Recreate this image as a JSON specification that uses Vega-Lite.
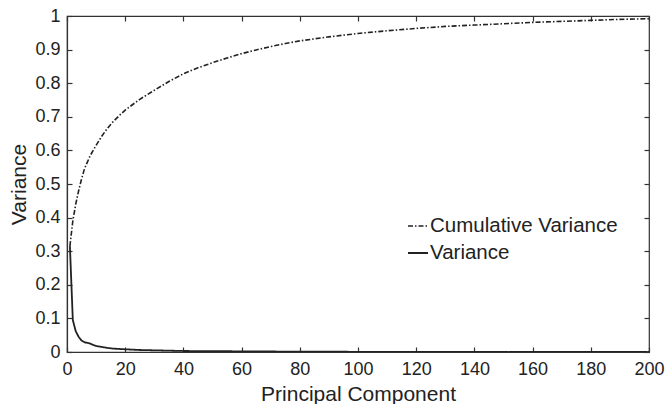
{
  "$schema": "https://vega.github.io/schema/vega-lite/v6.json",
  "width": 582,
  "height": 336,
  "autosize": "none",
  "padding": {"left": 67, "top": 16, "right": 17, "bottom": 52},
  "background": "white",
  "config": {
    "view": {"stroke": "#333", "strokeWidth": 1.2},
    "font": "Liberation Sans",
    "axis": {
      "grid": false,
      "labelFont": "Liberation Sans",
      "labelFontSize": 18,
      "labelColor": "#222",
      "titleFont": "Liberation Sans",
      "titleFontSize": 21,
      "titleFontWeight": "normal",
      "titleColor": "#222",
      "tickSize": -5,
      "tickColor": "#333",
      "tickWidth": 1.2,
      "domainColor": "#333",
      "domainWidth": 1.2
    },
    "legend": {
      "labelFont": "Liberation Sans",
      "labelFontSize": 20.5,
      "labelColor": "#222",
      "labelLimit": 400
    }
  },
  "datasets": {
    "pca": [
      {"pc": 1, "value": 0.315, "series": "Cumulative Variance"},
      {"pc": 2, "value": 0.39, "series": "Cumulative Variance"},
      {"pc": 3, "value": 0.44, "series": "Cumulative Variance"},
      {"pc": 4, "value": 0.48, "series": "Cumulative Variance"},
      {"pc": 5, "value": 0.515, "series": "Cumulative Variance"},
      {"pc": 6, "value": 0.545, "series": "Cumulative Variance"},
      {"pc": 7, "value": 0.565, "series": "Cumulative Variance"},
      {"pc": 8, "value": 0.585, "series": "Cumulative Variance"},
      {"pc": 9, "value": 0.6, "series": "Cumulative Variance"},
      {"pc": 10, "value": 0.615, "series": "Cumulative Variance"},
      {"pc": 12, "value": 0.643, "series": "Cumulative Variance"},
      {"pc": 14, "value": 0.667, "series": "Cumulative Variance"},
      {"pc": 16, "value": 0.687, "series": "Cumulative Variance"},
      {"pc": 18, "value": 0.704, "series": "Cumulative Variance"},
      {"pc": 20, "value": 0.72, "series": "Cumulative Variance"},
      {"pc": 25, "value": 0.752, "series": "Cumulative Variance"},
      {"pc": 30, "value": 0.779, "series": "Cumulative Variance"},
      {"pc": 35, "value": 0.805, "series": "Cumulative Variance"},
      {"pc": 40, "value": 0.828, "series": "Cumulative Variance"},
      {"pc": 45, "value": 0.846, "series": "Cumulative Variance"},
      {"pc": 50, "value": 0.861, "series": "Cumulative Variance"},
      {"pc": 55, "value": 0.875, "series": "Cumulative Variance"},
      {"pc": 60, "value": 0.888, "series": "Cumulative Variance"},
      {"pc": 65, "value": 0.899, "series": "Cumulative Variance"},
      {"pc": 70, "value": 0.909, "series": "Cumulative Variance"},
      {"pc": 75, "value": 0.918, "series": "Cumulative Variance"},
      {"pc": 80, "value": 0.926, "series": "Cumulative Variance"},
      {"pc": 85, "value": 0.932, "series": "Cumulative Variance"},
      {"pc": 90, "value": 0.938, "series": "Cumulative Variance"},
      {"pc": 95, "value": 0.943, "series": "Cumulative Variance"},
      {"pc": 100, "value": 0.948, "series": "Cumulative Variance"},
      {"pc": 110, "value": 0.956, "series": "Cumulative Variance"},
      {"pc": 120, "value": 0.963, "series": "Cumulative Variance"},
      {"pc": 130, "value": 0.969, "series": "Cumulative Variance"},
      {"pc": 140, "value": 0.973, "series": "Cumulative Variance"},
      {"pc": 150, "value": 0.977, "series": "Cumulative Variance"},
      {"pc": 160, "value": 0.981, "series": "Cumulative Variance"},
      {"pc": 170, "value": 0.984, "series": "Cumulative Variance"},
      {"pc": 180, "value": 0.987, "series": "Cumulative Variance"},
      {"pc": 190, "value": 0.99, "series": "Cumulative Variance"},
      {"pc": 200, "value": 0.992, "series": "Cumulative Variance"},
      {"pc": 1, "value": 0.315, "series": "Variance"},
      {"pc": 2, "value": 0.095, "series": "Variance"},
      {"pc": 3, "value": 0.062, "series": "Variance"},
      {"pc": 4, "value": 0.045, "series": "Variance"},
      {"pc": 5, "value": 0.034, "series": "Variance"},
      {"pc": 6, "value": 0.029, "series": "Variance"},
      {"pc": 7, "value": 0.027, "series": "Variance"},
      {"pc": 8, "value": 0.025, "series": "Variance"},
      {"pc": 9, "value": 0.021, "series": "Variance"},
      {"pc": 10, "value": 0.018, "series": "Variance"},
      {"pc": 12, "value": 0.015, "series": "Variance"},
      {"pc": 14, "value": 0.012, "series": "Variance"},
      {"pc": 16, "value": 0.01, "series": "Variance"},
      {"pc": 18, "value": 0.009, "series": "Variance"},
      {"pc": 20, "value": 0.008, "series": "Variance"},
      {"pc": 25, "value": 0.006, "series": "Variance"},
      {"pc": 30, "value": 0.005, "series": "Variance"},
      {"pc": 35, "value": 0.004, "series": "Variance"},
      {"pc": 40, "value": 0.003, "series": "Variance"},
      {"pc": 50, "value": 0.0025, "series": "Variance"},
      {"pc": 60, "value": 0.002, "series": "Variance"},
      {"pc": 70, "value": 0.0015, "series": "Variance"},
      {"pc": 80, "value": 0.001, "series": "Variance"},
      {"pc": 90, "value": 0.0008, "series": "Variance"},
      {"pc": 100, "value": 0.0006, "series": "Variance"},
      {"pc": 120, "value": 0.0004, "series": "Variance"},
      {"pc": 140, "value": 0.0003, "series": "Variance"},
      {"pc": 160, "value": 0.0002, "series": "Variance"},
      {"pc": 180, "value": 0.0001, "series": "Variance"},
      {"pc": 200, "value": 0.0001, "series": "Variance"}
    ]
  },
  "data": {"name": "pca"},
  "layer": [
    {
      "mark": {"type": "line", "clip": true},
      "encoding": {
        "x": {
          "field": "pc", "type": "quantitative",
          "scale": {"domain": [0, 200], "nice": false, "zero": false},
          "axis": {"orient": "bottom", "values": [0, 20, 40, 60, 80, 100, 120, 140, 160, 180, 200], "title": "Principal Component", "labelPadding": 13, "titlePadding": 5, "labelFlush": false}
        },
        "y": {
          "field": "value", "type": "quantitative",
          "scale": {"domain": [0, 1], "nice": false},
          "axis": {"orient": "left", "values": [0, 0.1, 0.2, 0.3, 0.4, 0.5, 0.6, 0.7, 0.8, 0.9, 1], "format": "~g", "title": "Variance", "labelPadding": 12, "titlePadding": 5, "labelFlush": false}
        },
        "color": {
          "field": "series", "type": "nominal",
          "scale": {"domain": ["Cumulative Variance", "Variance"], "range": ["#222222", "#222222"]},
          "legend": {"title": null, "orient": "none", "legendX": 340, "legendY": 199, "symbolType": "stroke", "symbolSize": 400, "symbolStrokeWidth": 1.5, "labelOffset": 1, "rowPadding": 5}
        },
        "strokeDash": {
          "field": "series", "type": "nominal",
          "scale": {"domain": ["Cumulative Variance", "Variance"], "range": [[5, 2, 1.5, 2], [1, 0]]},
          "legend": {"title": null, "orient": "none", "legendX": 340, "legendY": 199, "symbolType": "stroke", "symbolSize": 400, "symbolStrokeWidth": 1.5, "labelOffset": 1, "rowPadding": 5}
        },
        "strokeWidth": {
          "field": "series", "type": "nominal",
          "scale": {"domain": ["Cumulative Variance", "Variance"], "range": [1.6, 1.8]},
          "legend": null
        }
      }
    },
    {
      "mark": {"type": "line", "opacity": 0},
      "encoding": {
        "x": {
          "field": "pc", "type": "quantitative",
          "axis": {"orient": "top", "values": [0, 20, 40, 60, 80, 100, 120, 140, 160, 180, 200], "labels": false, "title": null, "domain": false}
        },
        "y": {
          "field": "value", "type": "quantitative",
          "axis": {"orient": "right", "values": [0, 0.1, 0.2, 0.3, 0.4, 0.5, 0.6, 0.7, 0.8, 0.9, 1], "labels": false, "title": null, "domain": false}
        }
      }
    }
  ],
  "resolve": {"axis": {"x": "independent", "y": "independent"}}
}
